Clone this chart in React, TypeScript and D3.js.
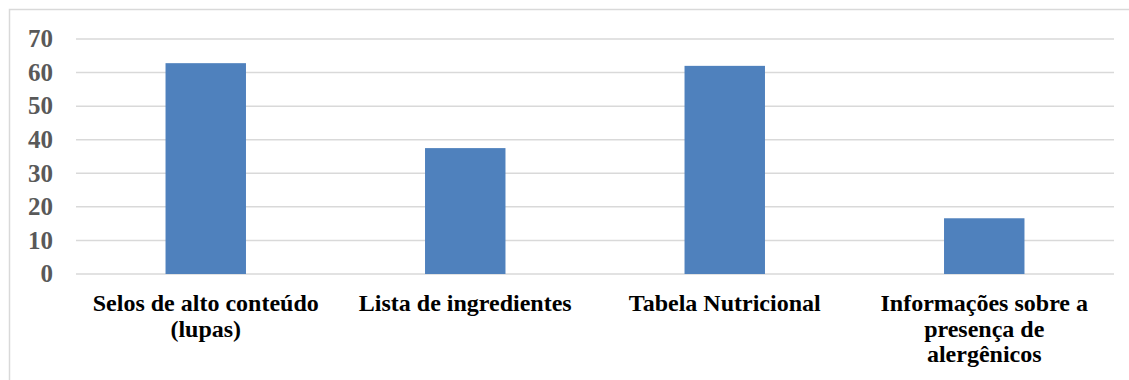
import React from "react";
import * as d3 from "d3";

const categories = [
  "Selos de alto conteúdo (lupas)",
  "Lista de ingredientes",
  "Tabela Nutricional",
  "Informações sobre a presença de alergênicos",
];
const values = [62.8, 37.5, 62.0, 16.6];
const yTicks = [0, 10, 20, 30, 40, 50, 60, 70];

const width = 1129;
const height = 380;
const margin = { top: 39, right: 15, bottom: 106, left: 76 };
const font = "'Liberation Serif', 'Times New Roman', serif";

// wrap a label into lines using canvas text measurement
function wrap(text: string, maxWidth: number, fontSpec: string) {
  const ctx = document.createElement("canvas").getContext("2d")!;
  ctx.font = fontSpec;
  const words = text.split(" ");
  const lines: string[] = [];
  let line = "";
  words.forEach((w) => {
    const test = line ? line + " " + w : w;
    if (ctx.measureText(test).width > maxWidth && line) {
      lines.push(line);
      line = w;
    } else {
      line = test;
    }
  });
  if (line) lines.push(line);
  return lines;
}

export default function App() {
  const innerW = width - margin.left - margin.right;
  const innerH = height - margin.top - margin.bottom;

  const x = d3
    .scaleBand()
    .domain(categories)
    .range([0, innerW])
    .paddingInner(0.69)
    .paddingOuter(0.345);

  const y = d3.scaleLinear().domain([0, 70]).range([innerH, 0]);

  return (
    <svg
      width={width}
      height={height}
      style={{ position: "absolute", left: 0, top: 0, background: "#fff" }}
    >
      <rect
        x={9.5}
        y={9.5}
        width={width + 20}
        height={height + 20}
        fill="none"
        stroke="#D9D9D9"
        strokeWidth={1.5}
      />
      <g transform={`translate(${margin.left}, ${margin.top})`}>
        {yTicks.map((t) => (
          <g key={t}>
            <line
              x1={0}
              x2={innerW}
              y1={y(t)}
              y2={y(t)}
              stroke="#D9D9D9"
              strokeWidth={1.5}
            />
            <text
              x={-23}
              y={y(t)}
              dy="0.33em"
              textAnchor="end"
              fontFamily={font}
              fontWeight="bold"
              fontSize={25}
              fill="#595959"
            >
              {t}
            </text>
          </g>
        ))}
        {categories.map((c, i) => (
          <rect
            key={c}
            x={x(c)}
            y={y(values[i])}
            width={x.bandwidth()}
            height={innerH - y(values[i])}
            fill="#4F81BD"
          />
        ))}
        {categories.map((c) => {
          const lines = wrap(c, 234, `bold 24px ${font}`);
          const cx = (x(c) || 0) + x.bandwidth() / 2;
          return (
            <text
              key={c}
              textAnchor="middle"
              fontFamily={font}
              fontWeight="bold"
              fontSize={24}
              fill="#000"
            >
              {lines.map((l, j) => (
                <tspan key={j} x={cx} y={innerH + 37 + j * 25.5}>
                  {l}
                </tspan>
              ))}
            </text>
          );
        })}
      </g>
    </svg>
  );
}
